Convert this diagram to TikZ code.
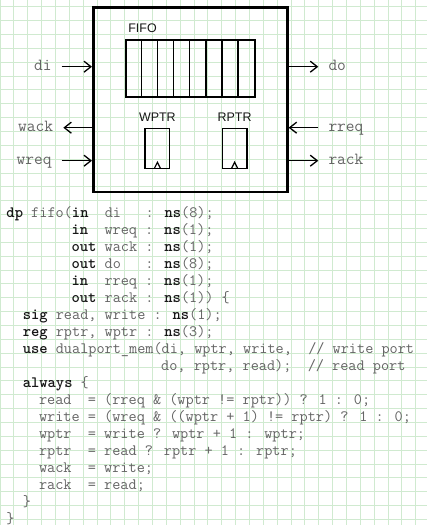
\documentclass[tikz,border=0pt]{standalone}
\usepackage{fontspec}
\usepackage{xcolor}
\usepackage{tikz}
\usetikzlibrary{arrows.meta,positioning}
\newfontfamily\blockfont{Liberation Sans}
\definecolor{gridgreen}{RGB}{208,234,208}
\definecolor{codegray}{RGB}{100,100,100}
\definecolor{kwblack}{RGB}{22,22,22}
\newcommand{\kw}[1]{{\bfseries\color{kwblack}#1}}

\begin{document}
\begin{tikzpicture}[
  x=1bp, y=-1bp,
  frame/.style={draw, line width=2.6bp, minimum width=194bp, minimum height=184.7bp, inner sep=0},
  cellrow/.style={draw, line width=1.7bp, minimum width=129bp, minimum height=56.7bp, inner sep=0},
  regbox/.style={draw, line width=1.5bp, minimum width=24.5bp, minimum height=40bp, inner sep=0},
  blk/.style={font=\blockfont\fontsize{12.5}{15}\selectfont, text=kwblack, inner sep=0},
  sig/.style={font=\ttfamily\fontsize{17}{20}\selectfont, text=codegray,
              inner xsep=10bp, inner ysep=0, text height=7bp, text depth=0bp},
  sigarr/.style={-{Straight Barb[length=7bp,width=11bp]}, line width=1.3bp},
  code/.style={font=\ttfamily\fontsize{15.87}{16.65}\selectfont, text=codegray,
               inner sep=0, text height=12.15bp, text depth=4.5bp},
  gridline/.style={draw=gridgreen, line width=0.9bp},
]
\useasboundingbox (0,0) rectangle (427,525);
\fill[white] (0,0) rectangle (427,525);

% graph paper
\foreach \k in {0,...,30} \draw[gridline] (13.86*\k,0) -- (13.86*\k,525);
\foreach \k in {0,...,37} \draw[gridline] (0,6.7+13.86*\k) -- (427,6.7+13.86*\k);

% block
\node[frame] (fifoblk) at (190.3,99.65) {};
\node[cellrow] (fifo) at (190.5,68.35) {};
\foreach \i in {1,...,7}
  \draw[line width=1.5bp] ([xshift=\i*16.125bp]fifo.north west) -- ([xshift=\i*16.125bp]fifo.south west);
\node[blk, above right=6bp and 3bp of fifo.north west] (fifolbl) {FIFO};

\node[regbox] (wptr) at (157.4,148.3) {};
\node[regbox] (rptr) at (234.6,148.3) {};
\node[blk, above=6bp of wptr] (wlbl) {WPTR};
\node[blk, above=6bp of rptr] (rlbl) {RPTR};
\draw[line width=1.2bp] ([xshift=-3bp, yshift=0.75bp]wptr.south) -- ++(3,-6) -- ++(3,6);
\draw[line width=1.2bp] ([xshift=-3bp, yshift=0.75bp]rptr.south) -- ++(3,-6) -- ++(3,6);

% ports
\node[sig, anchor=east] (di)   at (61.7,66.7)  {di};
\node[sig, anchor=east] (wack) at (63.3,127.7) {wack};
\node[sig, anchor=east] (wreq) at (61.7,160.7) {wreq};
\node[sig, anchor=west] (do)   at (318.3,66.7)  {do};
\node[sig, anchor=west] (rreq) at (318.3,127.7) {rreq};
\node[sig, anchor=west] (rack) at (318.3,160.7) {rack};

\draw[sigarr] (di) -- (di -| fifoblk.west);
\draw[sigarr] (wack -| fifoblk.west) -- (wack);
\draw[sigarr] (wreq) -- (wreq -| fifoblk.west);
\draw[sigarr] (do -| fifoblk.east) -- (do);
\draw[sigarr] (rreq) -- (rreq -| fifoblk.east);
\draw[sigarr] (rack -| fifoblk.east) -- (rack);

% source text
\node[code, anchor=base west] (c1) at (6.3,217) {\kw{dp} fifo(\kw{in}~~di~~~: \kw{ns}(8);};
\node[code, below=0pt of c1.south west, anchor=north west] (c2) {~~~~~~~~\kw{in}~~wreq : \kw{ns}(1);};
\node[code, below=0pt of c2.south west, anchor=north west] (c3) {~~~~~~~~\kw{out} wack : \kw{ns}(1);};
\node[code, below=0pt of c3.south west, anchor=north west] (c4) {~~~~~~~~\kw{out} do~~~: \kw{ns}(8);};
\node[code, below=0pt of c4.south west, anchor=north west] (c5) {~~~~~~~~\kw{in}~~rreq : \kw{ns}(1);};
\node[code, below=0pt of c5.south west, anchor=north west] (c6) {~~~~~~~~\kw{out} rack : \kw{ns}(1)) \{};
\node[code, below=0pt of c6.south west, anchor=north west] (c7) {~~\kw{sig} read, write : \kw{ns}(1);};
\node[code, below=0pt of c7.south west, anchor=north west] (c8) {~~\kw{reg} rptr, wptr : \kw{ns}(3);};
\node[code, below=0pt of c8.south west, anchor=north west] (c9) {~~\kw{use} dualport\_mem(di, wptr, write,~~// write port};
\node[code, below=0pt of c9.south west, anchor=north west] (c10) {~~~~~~~~~~~~~~~~~~~do, rptr, read);~~// read port};
\node[code, below=0pt of c10.south west, anchor=north west] (c11) {~~\kw{always} \{};
\node[code, below=0pt of c11.south west, anchor=north west] (c12) {~~~~read~~= (rreq \& (wptr != rptr)) ? 1 : 0;};
\node[code, below=0pt of c12.south west, anchor=north west] (c13) {~~~~write = (wreq \& ((wptr + 1) != rptr) ? 1 : 0;};
\node[code, below=0pt of c13.south west, anchor=north west] (c14) {~~~~wptr~~= write ? wptr + 1 : wptr;};
\node[code, below=0pt of c14.south west, anchor=north west] (c15) {~~~~rptr~~= read ? rptr + 1 : rptr;};
\node[code, below=0pt of c15.south west, anchor=north west] (c16) {~~~~wack~~= write;};
\node[code, below=0pt of c16.south west, anchor=north west] (c17) {~~~~rack~~= read;};
\node[code, below=0pt of c17.south west, anchor=north west] (c18) {~~\}};
\node[code, below=0pt of c18.south west, anchor=north west] (c19) {\}};
\end{tikzpicture}
\end{document}
